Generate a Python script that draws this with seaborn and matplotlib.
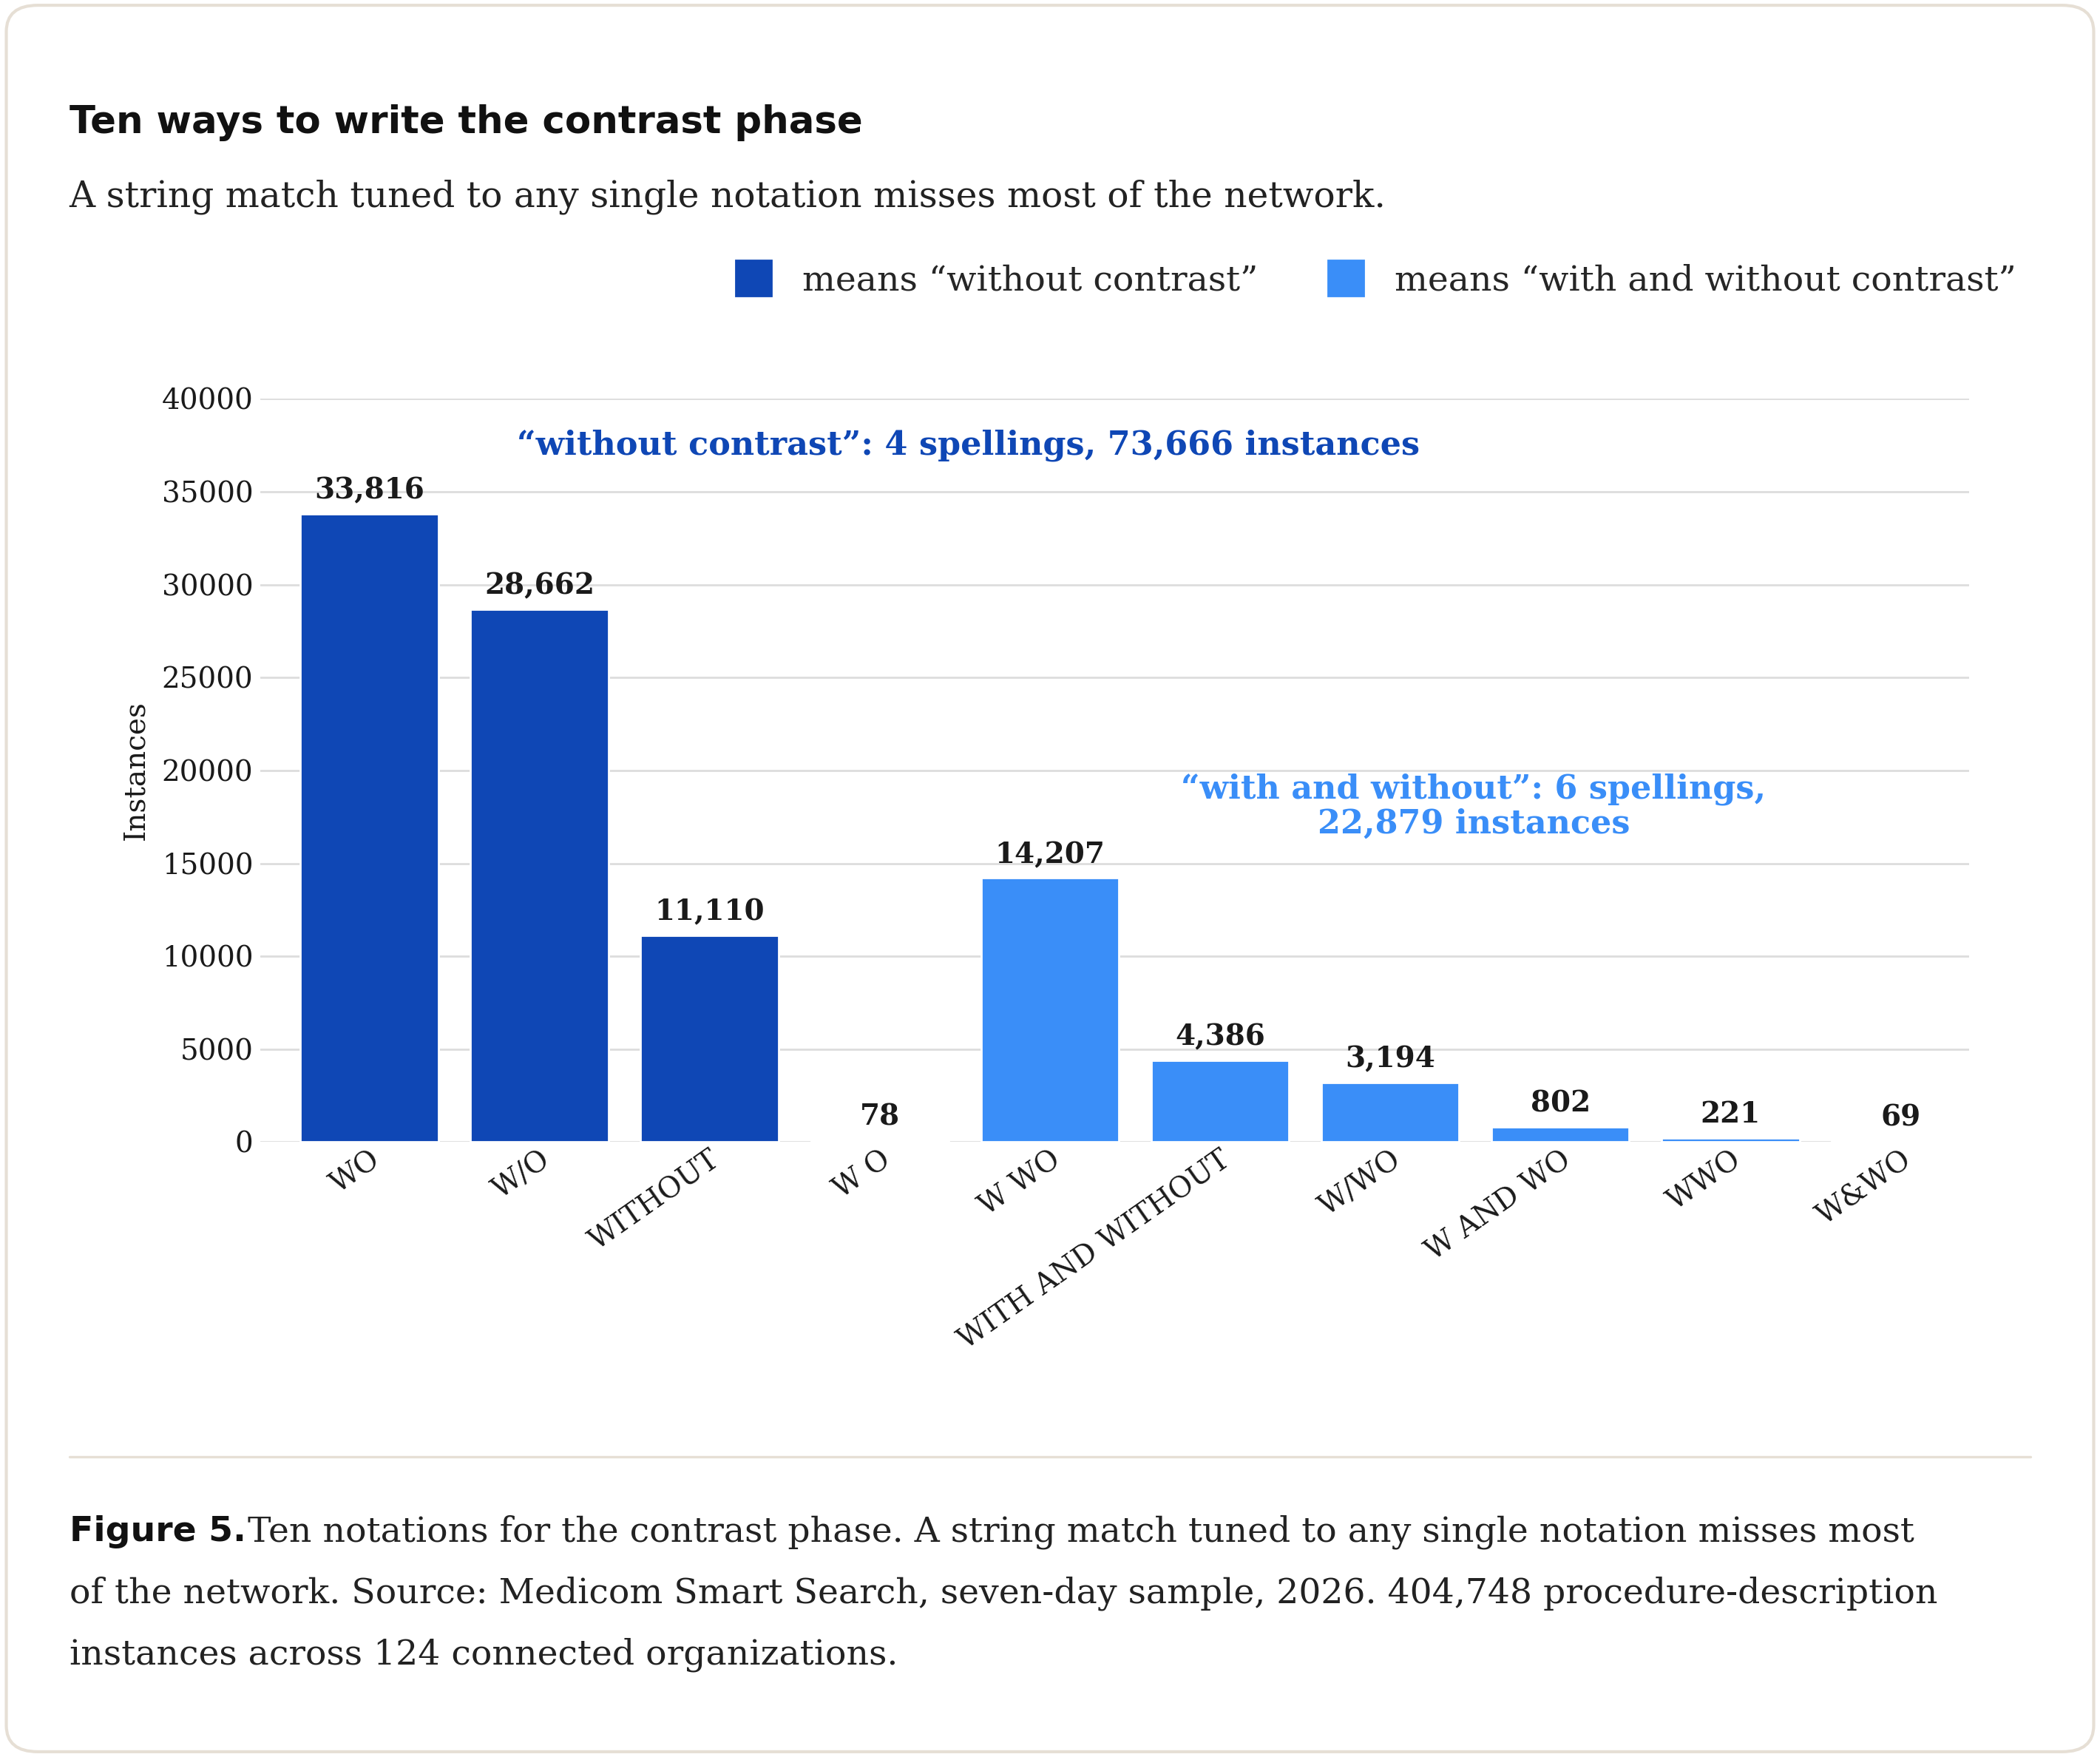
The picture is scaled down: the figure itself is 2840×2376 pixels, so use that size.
import matplotlib.pyplot as plt
import seaborn as sns
import pandas as pd
from matplotlib.patches import FancyBboxPatch
from matplotlib.lines import Line2D

notations = ['WO', 'W/O', 'WITHOUT', 'W O', 'W WO', 'WITH AND WITHOUT',
             'W/WO', 'W AND WO', 'WWO', 'W&WO']
instances = [33816, 28662, 11110, 78, 14207, 4386, 3194, 802, 221, 69]
meaning = ['without'] * 4 + ['with and without'] * 6

dark = '#0F47B5'
light = '#3A8EF8'
serif = 'DejaVu Serif'

df = pd.DataFrame({'notation': notations, 'instances': instances, 'meaning': meaning})

sns.set_theme(style='whitegrid')
plt.rcParams['font.family'] = [serif]

fig = plt.figure(figsize=(14.2, 11.88), dpi=200)
fig.patch.set_facecolor('white')
card = FancyBboxPatch((0.003, 0.003), 0.994, 0.994, boxstyle='round,pad=0,rounding_size=0.015',
                      transform=fig.transFigure, facecolor='none', edgecolor='#E6DFD5',
                      lw=1.5, zorder=-1)
fig.patches.append(card)

ax = fig.add_axes([0.124, 0.350, 0.8135, 0.423])
sns.barplot(data=df, x='notation', y='instances', hue='meaning', order=notations,
            palette={'without': dark, 'with and without': light},
            dodge=False, width=0.81, saturation=1, legend=False, ax=ax)

for i, v in enumerate(instances):
    ax.text(i, v + 500, f'{v:,}', ha='center', va='bottom', fontsize=14,
            fontweight='bold', color='#1a1a1a')

ax.set_ylim(0, 40000)
ax.set_yticks(range(0, 40001, 5000))
ax.set_xlim(-0.64, 9.4)
ax.set_xlabel('')
ax.set_ylabel('Instances', fontsize=14, color='#1a1a1a', labelpad=6)
ax.grid(axis='x', visible=False)
ax.grid(axis='y', color='#DDDDDD', lw=1)
for s in ax.spines.values():
    s.set_visible(False)
ax.tick_params(axis='y', labelsize=14, colors='#1a1a1a', length=0)
ax.tick_params(axis='x', labelsize=14, colors='#1a1a1a', length=0, pad=2)
for lab in ax.get_xticklabels():
    lab.set_rotation(35)
    lab.set_ha('right')
    lab.set_rotation_mode('anchor')

ax.text(3.52, 37480, '\u201cwithout contrast\u201d: 4 spellings, 73,666 instances',
        ha='center', va='center', color=dark, fontsize=16, fontweight='bold')
ax.text(6.49, 18050, '\u201cwith and without\u201d: 6 spellings,\n22,879 instances',
        ha='center', va='center', color=light, fontsize=16, fontweight='bold',
        linespacing=1.1)

fig.text(0.033, 0.930, 'Ten ways to write the contrast phase', fontsize=18.5,
         fontweight='bold', family='DejaVu Sans', color='#111111', va='center')
fig.text(0.033, 0.888, 'A string match tuned to any single notation misses most of the network.',
         fontsize=17.5, color='#222222', va='center')

h1 = Line2D([], [], marker='s', ls='', color=dark, markersize=17)
h2 = Line2D([], [], marker='s', ls='', color=light, markersize=17)
fig.legend([h1, h2], ['means \u201cwithout contrast\u201d', 'means \u201cwith and without contrast\u201d'],
           loc='center right', bbox_to_anchor=(0.975, 0.840), ncol=2, frameon=False,
           fontsize=17, handletextpad=0.4, columnspacing=1.5)

fig.add_artist(Line2D([0.033, 0.967], [0.171, 0.171], transform=fig.transFigure,
                      color='#E6DFD5', lw=1.2))
fig.text(0.033, 0.128, 'Figure 5.', fontsize=17, fontweight='bold', family='DejaVu Sans',
         color='#111111', va='center')
fig.text(0.118, 0.128, 'Ten notations for the contrast phase. A string match tuned to any single notation misses most',
         fontsize=17, color='#222222', va='center')
fig.text(0.033, 0.093, 'of the network. Source: Medicom Smart Search, seven-day sample, 2026. 404,748 procedure-description',
         fontsize=17, color='#222222', va='center')
fig.text(0.033, 0.058, 'instances across 124 connected organizations.',
         fontsize=17, color='#222222', va='center')

fig.savefig('out.png', dpi=200)
